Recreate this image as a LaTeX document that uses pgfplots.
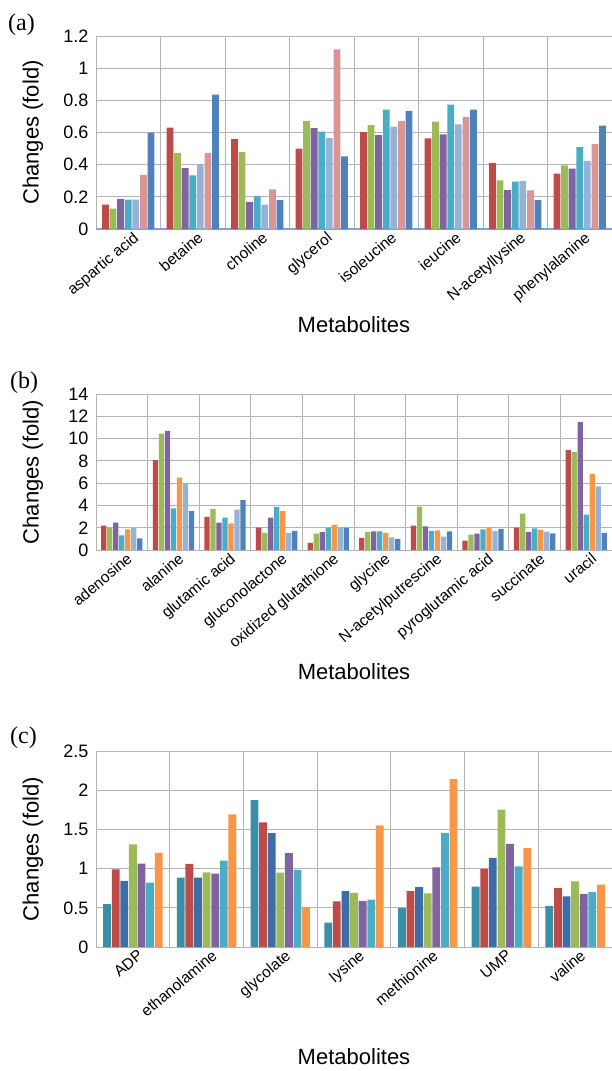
\documentclass[border=0pt]{standalone}
\usepackage{pgfplots}
\pgfplotsset{compat=1.18}
\usepackage{pgfplotstable}
\usepackage{fontspec}
\setmainfont{Liberation Sans}
\newfontfamily\seriffont{Liberation Serif}

\definecolor{cRed}{HTML}{BE4B48}
\definecolor{cGreen}{HTML}{9BBB59}
\definecolor{cPurple}{HTML}{8064A2}
\definecolor{cTeal}{HTML}{4BACC6}
\definecolor{cLBlue}{HTML}{95B3D7}
\definecolor{cPink}{HTML}{D99694}
\definecolor{cBlue}{HTML}{4F81BD}
\definecolor{cOrange}{HTML}{F79646}
\definecolor{cDTeal}{HTML}{3A8FA8}
\definecolor{cDBlue}{HTML}{3D6CA6}
\definecolor{cGrid}{HTML}{B4B4B4}
\definecolor{cAxisBlue}{HTML}{7FA3D0}

% panel (a): red green purple teal lightblue pink blue
\pgfplotstableread{
i   r     g     p     t     lb    pk    b
0   0.151 0.126 0.188 0.182 0.182 0.337 0.600
1   0.631 0.472 0.379 0.333 0.399 0.472 0.836
2   0.559 0.478 0.168 0.203 0.151 0.246 0.180
3   0.500 0.670 0.627 0.606 0.565 1.117 0.451
4   0.602 0.646 0.584 0.743 0.636 0.671 0.735
5   0.563 0.667 0.588 0.774 0.650 0.696 0.743
6   0.410 0.302 0.242 0.294 0.300 0.240 0.180
7   0.344 0.395 0.375 0.509 0.424 0.530 0.642
}\dataA

% panel (b): red green purple teal orange lightblue blue
\pgfplotstableread{
i   r     g     p     t     o     lb    b
0   2.19  2.01  2.46  1.32  1.86  1.98  1.05
1   8.06  10.45 10.69 3.73  6.50  6.03  3.49
2   2.97  3.69  2.46  2.91  2.40  3.63  4.50
3   2.01  1.53  2.91  3.87  3.48  1.53  1.71
4   0.63  1.47  1.62  2.01  2.25  2.01  2.01
5   1.08  1.62  1.68  1.68  1.53  1.14  0.99
6   2.19  3.90  2.13  1.71  1.77  1.20  1.68
7   0.84  1.38  1.47  1.86  2.01  1.71  1.89
8   2.01  3.27  1.62  1.95  1.80  1.65  1.50
9   8.99  8.81  11.48 3.18  6.83  5.70  1.53
}\dataB

% panel (c): darkteal red darkblue green purple teal orange
\pgfplotstableread{
i   dt    r     db    g     p     t     o
0   0.547 0.991 0.842 1.308 1.064 0.821 1.201
1   0.885 1.060 0.885 0.953 0.936 1.103 1.692
2   1.872 1.590 1.453 0.949 1.197 0.983 0.504
3   0.312 0.581 0.714 0.692 0.590 0.603 1.551
4   0.496 0.714 0.765 0.684 1.017 1.457 2.141
5   0.769 0.996 1.137 1.752 1.316 1.030 1.261
6   0.521 0.752 0.645 0.838 0.679 0.701 0.795
}\dataC

\pgfplotsset{
  panel/.style={
    scale only axis, width=516pt,
    enlarge x limits=false,
    ymin=0,
    major tick length=0pt, minor tick length=0pt,
    xmajorgrids=false, xminorgrids=true, ymajorgrids=true,
    major grid style={draw=cGrid, line width=0.9pt},
    minor grid style={draw=cGrid, line width=0.9pt},
    axis line style={draw=cGrid, line width=0.9pt},
    /pgf/number format/assume math mode=true,
    yticklabel style={font=\fontsize{18}{18}\selectfont, xshift=-4pt},
    xticklabel style={font=\fontsize{15.5}{15.5}\selectfont, rotate=40, anchor=north east, inner sep=1pt, xshift=3pt, yshift=-3pt},
    every axis y label/.style={at={([xshift=-63pt]axis description cs:0,0.5)}, anchor=center, rotate=90, font=\fontsize{22}{22}\selectfont},
    ylabel={Changes (fold)},
    xlabel={Metabolites},
  },
  xlab/.style={every axis x label/.style={at={([yshift=-#1]axis description cs:0.5,0)}, anchor=center, font=\fontsize{22}{22}\selectfont}},
}

\begin{document}
\begin{tikzpicture}[x=1pt,y=1pt]
\useasboundingbox (0,0) rectangle (611,-1071);

% ---------------- (a)
\node[anchor=west, font=\seriffont\fontsize{24}{24}\selectfont, inner sep=0pt] at (8,-25) {(a)};
\begin{axis}[panel, xlab=96pt,
  at={(96pt,-229pt)}, anchor=south west, height=193pt,
  ybar=0.8pt, bar width=6.8pt,
  xmin=-0.5, xmax=7.5, ymax=1.2,
  ytick={0,0.2,0.4,0.6,0.8,1,1.2},
  xtick={0,...,7},
  minor xtick={-0.5,0.5,...,7.5},
  xticklabels={aspartic acid,betaine,choline,glycerol,isoleucine,ieucine,N-acetyllysine,phenylalanine},
  extra y ticks={0}, extra y tick labels={},
  extra y tick style={ymajorgrids=true, major grid style={draw=cAxisBlue, line width=1.1pt}},
]
\addplot[draw=none, fill=cRed]    table[x=i, y=r]  {\dataA};
\addplot[draw=none, fill=cGreen]  table[x=i, y=g]  {\dataA};
\addplot[draw=none, fill=cPurple] table[x=i, y=p]  {\dataA};
\addplot[draw=none, fill=cTeal]   table[x=i, y=t]  {\dataA};
\addplot[draw=none, fill=cLBlue]  table[x=i, y=lb] {\dataA};
\addplot[draw=none, fill=cPink]   table[x=i, y=pk] {\dataA};
\addplot[draw=none, fill=cBlue]   table[x=i, y=b]  {\dataA};
\end{axis}

% ---------------- (b)
\node[anchor=west, font=\seriffont\fontsize{24}{24}\selectfont, inner sep=0pt] at (10,-383) {(b)};
\begin{axis}[panel, xlab=122pt,
  at={(96pt,-550pt)}, anchor=south west, height=156pt,
  ybar=0.7pt, bar width=5.3pt,
  xmin=-0.5, xmax=9.5, ymax=14,
  ytick={0,2,...,14},
  xtick={0,...,9},
  minor xtick={-0.5,0.5,...,9.5},
  xticklabels={adenosine,alanine,glutamic acid,gluconolactone,oxidized glutathione,glycine,N-acetylputrescine,pyroglutamic acid,succinate,uracil},
]
\addplot[draw=none, fill=cRed]    table[x=i, y=r]  {\dataB};
\addplot[draw=none, fill=cGreen]  table[x=i, y=g]  {\dataB};
\addplot[draw=none, fill=cPurple] table[x=i, y=p]  {\dataB};
\addplot[draw=none, fill=cTeal]   table[x=i, y=t]  {\dataB};
\addplot[draw=none, fill=cOrange] table[x=i, y=o]  {\dataB};
\addplot[draw=none, fill=cLBlue]  table[x=i, y=lb] {\dataB};
\addplot[draw=none, fill=cBlue]   table[x=i, y=b]  {\dataB};
\end{axis}

% ---------------- (c)
\node[anchor=west, font=\seriffont\fontsize{24}{24}\selectfont, inner sep=0pt] at (10,-738) {(c)};
\begin{axis}[panel, xlab=110pt,
  at={(96pt,-947pt)}, anchor=south west, height=196pt,
  ybar=0.8pt, bar width=7.8pt,
  xmin=-0.5, xmax=6.5, ymax=2.5,
  ytick={0,0.5,1,1.5,2,2.5},
  xtick={0,...,6},
  minor xtick={-0.5,0.5,...,6.5},
  xticklabels={ADP,ethanolamine,glycolate,lysine,methionine,UMP,valine},
]
\addplot[draw=none, fill=cDTeal]  table[x=i, y=dt] {\dataC};
\addplot[draw=none, fill=cRed]    table[x=i, y=r]  {\dataC};
\addplot[draw=none, fill=cDBlue]  table[x=i, y=db] {\dataC};
\addplot[draw=none, fill=cGreen]  table[x=i, y=g]  {\dataC};
\addplot[draw=none, fill=cPurple] table[x=i, y=p]  {\dataC};
\addplot[draw=none, fill=cTeal]   table[x=i, y=t]  {\dataC};
\addplot[draw=none, fill=cOrange] table[x=i, y=o]  {\dataC};
\end{axis}
\end{tikzpicture}
\end{document}
